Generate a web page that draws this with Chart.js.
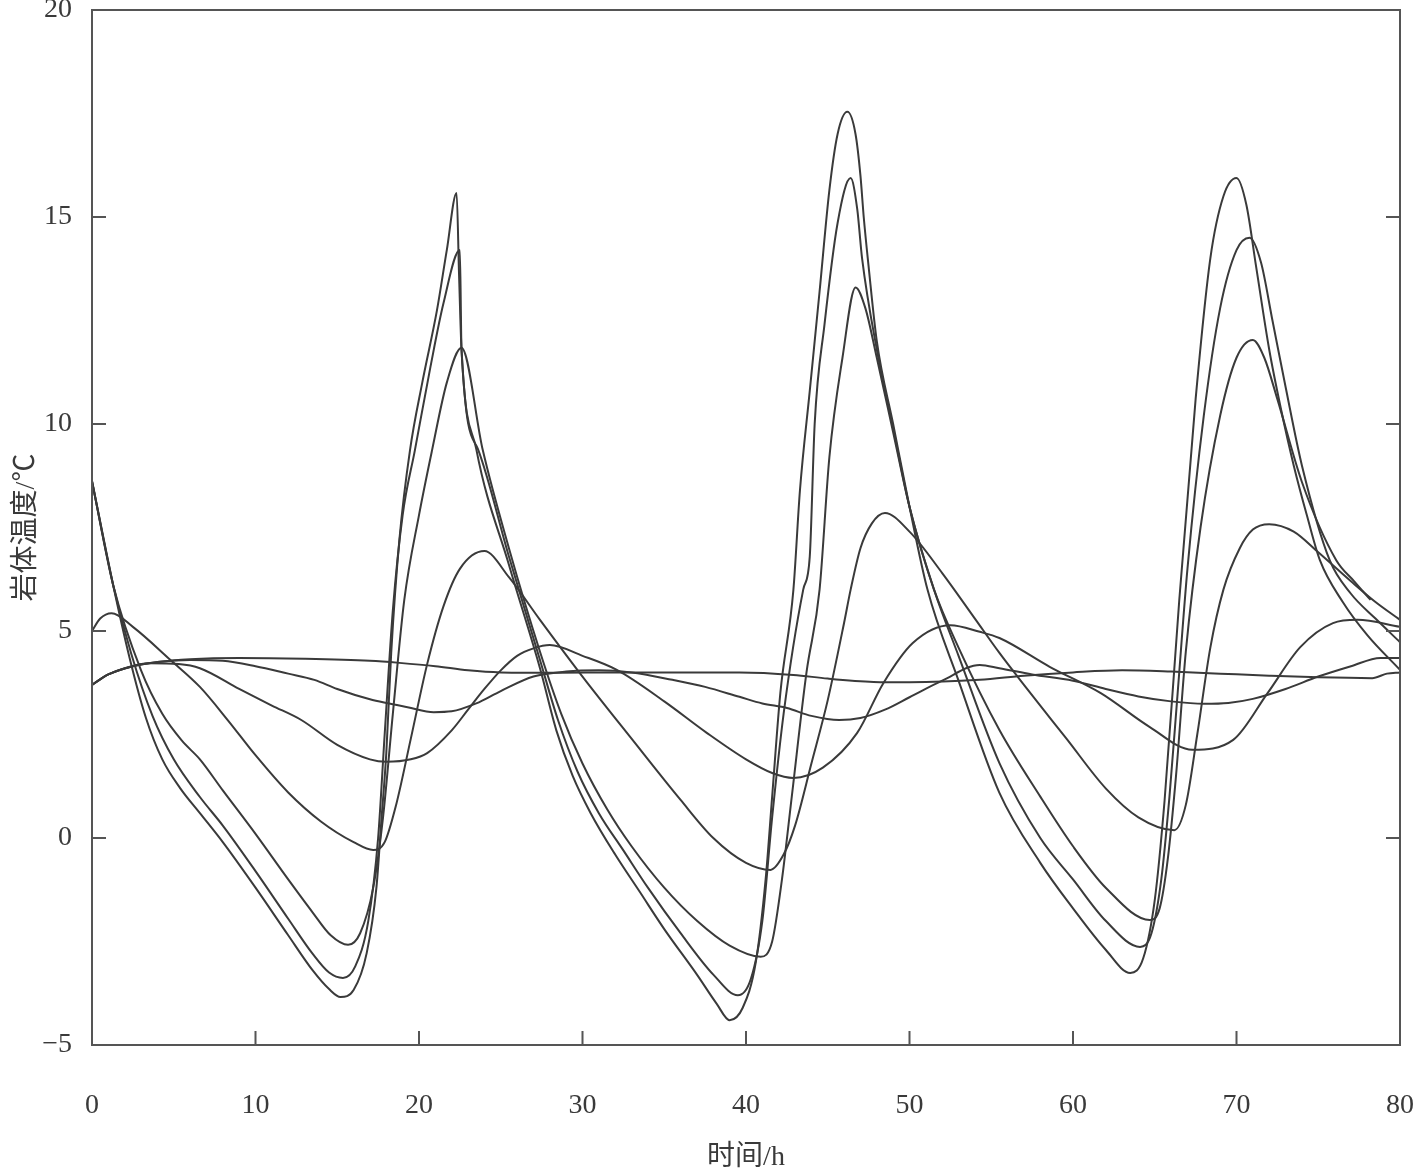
<!DOCTYPE html>
<html lang="zh">
<head>
<meta charset="UTF-8">
<title>岩体温度</title>
<script src="https://cdn.jsdelivr.net/npm/chart.js"></script>
<style>
  html, body { margin: 0; padding: 0; background: #fff; }
</style>
</head>
<body>
<canvas id="rockChart" width="1424" height="1174"></canvas>
<script>
// time in h, temperature in degC, one [h, T] pair per point
const xTicks = [0, 10, 20, 30, 40, 50, 60, 70, 80];
const yTicks = [-5, 0, 5, 10, 15, 20];

const seriesA = [[0,8.62],[1.3,6.1],[2.3,4.35],[3.3,2.9],[4.3,1.9],[5.4,1.2],[6.6,0.6],[8,-0.1],[10,-1.2],[12,-2.35],[13.5,-3.2],[14.5,-3.65],[15.2,-3.84],[16,-3.67],[16.8,-2.78],[17.4,-1.18],[17.7,0.43],[18,2.05],[18.3,4.47],[18.8,7.2],[19.45,9.37],[20.2,11.0],[21.1,12.75],[21.7,14.2],[22.3,15.58],[22.45,13.6],[22.6,11.8],[23.5,9.4],[25.5,6.6],[27.4,4.1],[28.4,2.6],[29.4,1.5],[30.5,0.6],[32,-0.4],[33.5,-1.3],[35,-2.2],[37,-3.3],[38.2,-4.0],[39,-4.4],[39.8,-4.1],[40.6,-3.0],[41.2,-1.0],[41.6,1.0],[42.1,3.5],[42.9,6.0],[43.3,8.4],[43.9,10.8],[44.5,13.2],[45.1,15.65],[45.6,17.0],[46.2,17.54],[46.7,17.0],[47.0,16.0],[47.2,15.0],[47.5,13.8],[48,12.0],[49,10.0],[50,8.0],[51.1,6.0],[53,3.8],[55.5,1.09],[58,-0.6],[60,-1.7],[62,-2.7],[63.5,-3.26],[64.3,-2.9],[65,-1.5],[65.6,0.9],[66.5,5.75],[67.5,10.6],[68.4,14.0],[69.2,15.5],[70,15.94],[70.6,15.3],[71.2,13.8],[72,11.8],[72.7,10.4],[73.5,9.0],[74.3,7.8],[75.1,6.71],[76.5,5.7],[78,4.9],[80,4.06]];
const seriesB = [[0,8.62],[1.3,6.1],[2.4,4.45],[3.7,2.95],[5,1.9],[6.6,0.99],[8,0.3],[10,-0.8],[12,-1.95],[13.5,-2.8],[14.5,-3.25],[15.35,-3.38],[16.1,-3.1],[16.9,-2.0],[17.5,0.0],[17.9,2.5],[18.4,5.5],[19,7.8],[19.75,9.37],[20.7,11.38],[21.5,12.92],[22.5,14.2],[22.6,11.8],[23.6,9.4],[25.5,6.8],[27.4,4.3],[28.5,2.85],[29.7,1.6],[31,0.6],[32.5,-0.3],[34,-1.2],[36,-2.3],[38,-3.3],[39.5,-3.8],[40.3,-3.4],[41,-2.0],[41.6,0.5],[42.3,3.0],[43.5,6.0],[43.9,6.8],[44.2,10.0],[44.8,12.4],[45.6,14.85],[46.4,15.94],[46.8,15.2],[47.1,14.0],[48,11.8],[49,9.9],[50,8.0],[51.5,6.0],[53,4.4],[55.5,1.81],[58,0.0],[60,-1.0],[62,-2.0],[64.1,-2.63],[64.8,-2.3],[65.4,-1.0],[65.9,1.0],[66.4,3.5],[67,6.5],[68,10.2],[69,12.8],[70,14.2],[70.8,14.5],[71.5,13.9],[72.2,12.5],[73,10.9],[74,9.0],[75.7,6.71],[77,5.9],[78.5,5.3],[80,4.73]];
const seriesC = [[0,8.62],[1.3,6.1],[3,4.05],[4.3,3.0],[5.5,2.35],[6.6,1.9],[8,1.15],[10,0.1],[12,-1.0],[13.5,-1.8],[14.6,-2.35],[15.66,-2.58],[16.4,-2.3],[17.2,-1.2],[17.8,0.5],[18.4,3.0],[19.1,5.75],[20,7.8],[20.8,9.37],[21.7,11.0],[22.6,11.84],[23.9,9.37],[25.5,7.0],[27.4,4.5],[28.7,3.0],[30,1.8],[31.5,0.7],[33,-0.2],[35,-1.2],[37,-2.0],[39,-2.6],[40.9,-2.87],[41.6,-2.5],[42.2,-1.0],[42.8,1.0],[43.7,4.0],[44.5,6.0],[45.1,9.2],[45.9,11.6],[46.7,13.3],[47.3,12.8],[48,11.6],[49,9.8],[50,8.0],[51.5,6.0],[53,4.6],[55.5,2.61],[58,1.0],[60,-0.2],[62,-1.2],[64.7,-1.98],[65.3,-1.7],[65.8,-0.5],[66.3,1.5],[66.9,4.5],[67.8,7.5],[69,10.2],[70,11.6],[71,12.03],[71.7,11.6],[72.5,10.6],[74,8.6],[76.1,6.71],[77.2,6.2],[78.2,5.75]];
const seriesD = [[0,5.0],[0.5,5.3],[1.2,5.43],[2.5,5.1],[4.8,4.3],[6.6,3.65],[8.3,2.85],[10,2.0],[12,1.1],[14,0.4],[16,-0.1],[17.2,-0.29],[17.9,-0.1],[18.6,0.8],[19.5,2.4],[20.5,4.2],[21.5,5.6],[22.5,6.5],[24,6.93],[25.5,6.3],[27.4,5.27],[30,3.9],[33,2.4],[36,0.92],[38,0.0],[40,-0.6],[41.5,-0.77],[42.3,-0.4],[43,0.3],[44,1.8],[45,3.33],[46,5.2],[46.4,6.0],[47,7.0],[47.7,7.6],[48.5,7.85],[50,7.4],[52,6.4],[54,5.3],[55.5,4.47],[57,3.7],[59.6,2.4],[62,1.2],[64,0.5],[66.2,0.19],[66.9,0.8],[67.6,2.5],[68.4,4.6],[69.2,6.0],[70.2,7.0],[71,7.45],[72,7.58],[73.5,7.4],[75,6.9],[77,6.2],[78.5,5.7],[80,5.27]];
const seriesE = [[0,3.7],[1,3.95],[2,4.1],[3.5,4.22],[5.3,4.2],[6.6,4.1],[9,3.6],[11,3.2],[12.8,2.85],[15,2.25],[17,1.9],[18,1.84],[19.5,1.9],[20.5,2.05],[22,2.6],[23,3.1],[24,3.6],[25,4.05],[26,4.4],[27,4.58],[28,4.66],[30,4.4],[32.1,4.06],[35,3.3],[37.6,2.54],[40,1.9],[41.6,1.57],[42.9,1.45],[44.7,1.7],[46.8,2.54],[48.4,3.74],[50.2,4.71],[52.5,5.14],[54.3,4.98],[55.5,4.83],[58.6,4.13],[61.7,3.5],[64.7,2.68],[67.3,2.13],[69.8,2.37],[71.9,3.5],[73.9,4.61],[75.9,5.19],[77.4,5.27],[80,5.1]];
const seriesF = [[0,3.7],[1,3.95],[2.5,4.15],[4,4.25],[6,4.3],[8,4.28],[10,4.15],[12,3.97],[13.6,3.82],[15,3.6],[17,3.35],[18,3.26],[19.3,3.16],[20.9,3.04],[22,3.06],[23.5,3.25],[25,3.55],[27,3.9],[29,4.02],[31,4.05],[33,4.0],[35.5,3.82],[37.5,3.65],[39.6,3.41],[41,3.25],[42.5,3.14],[44,2.95],[45.7,2.85],[47,2.9],[48.5,3.1],[50,3.4],[52,3.8],[54.3,4.18],[55.5,4.1],[57.5,3.95],[60,3.8],[62,3.6],[64,3.42],[66,3.3],[68,3.24],[69.5,3.26],[71,3.36],[73,3.6],[75,3.9],[77,4.15],[78.8,4.35],[80,4.35]];
const seriesG = [[0,3.7],[1,3.95],[2.5,4.15],[4,4.25],[6,4.32],[9,4.35],[13,4.33],[17,4.28],[18.8,4.23],[21,4.15],[23,4.05],[25,4.0],[28.6,3.99],[32,4.0],[36,4.0],[39.6,4.0],[42.9,3.94],[45,3.85],[47.8,3.77],[50,3.76],[54.3,3.82],[57,3.92],[60,4.0],[63,4.05],[66,4.02],[69,3.97],[72,3.92],[75,3.88],[78.3,3.86],[79.2,3.97],[80,4.0]];

const allSeries = [seriesA, seriesB, seriesC, seriesD, seriesE, seriesF, seriesG];
const lineColor = '#3a3a3a';
const axisColor = '#555';
const fontFamily = "'Liberation Serif', 'Noto Sans CJK SC', serif";

// frame + inward tick marks, like the original plot
const frameTicks = {
    id: 'frameTicks',
    afterDraw(chart) {
        const { ctx, chartArea: a, scales } = chart;
        ctx.save();
        ctx.strokeStyle = axisColor;
        ctx.lineWidth = 2;
        ctx.strokeRect(a.left, a.top, a.right - a.left, a.bottom - a.top);
        const len = 14;
        ctx.beginPath();
        xTicks.forEach(v => {
            if (v === xTicks[0] || v === xTicks[xTicks.length - 1]) return;
            const px = scales.x.getPixelForValue(v);
            ctx.moveTo(px, a.bottom);
            ctx.lineTo(px, a.bottom - len);
        });
        yTicks.forEach(v => {
            if (v === yTicks[0] || v === yTicks[yTicks.length - 1]) return;
            const py = scales.y.getPixelForValue(v);
            ctx.moveTo(a.left, py);
            ctx.lineTo(a.left + len, py);
            ctx.moveTo(a.right, py);
            ctx.lineTo(a.right - len, py);
        });
        ctx.stroke();
        ctx.restore();
    }
};

new Chart(document.getElementById('rockChart'), {
    type: 'line',
    data: {
        datasets: allSeries.map((s, i) => ({
            label: 'S' + (i + 1),
            data: s.map(p => ({ x: p[0], y: p[1] })),
            borderColor: lineColor,
            borderWidth: 2,
            pointRadius: 0,
            fill: false,
            cubicInterpolationMode: 'monotone'
        }))
    },
    options: {
        responsive: false,
        devicePixelRatio: 1,
        animation: false,
        layout: { padding: { top: 10, right: 24, left: 0, bottom: 0 } },
        plugins: { legend: { display: false }, tooltip: { enabled: false } },
        scales: {
            x: {
                type: 'linear',
                min: 0,
                max: 80,
                afterBuildTicks: s => { s.ticks = xTicks.map(v => ({ value: v })); },
                afterFit: s => { s.height = 129; s.paddingLeft = 0; s.paddingRight = 0; },
                grid: { display: false },
                border: { display: false },
                ticks: {
                    color: '#3a3a3a',
                    padding: 36,
                    maxRotation: 0,
                    font: { family: fontFamily, size: 28 }
                },
                title: {
                    display: true,
                    text: '时间/h',
                    color: '#3a3a3a',
                    padding: { top: 0, bottom: 0 },
                    font: { family: fontFamily, size: 28 }
                }
            },
            y: {
                type: 'linear',
                min: -5,
                max: 20,
                afterBuildTicks: s => { s.ticks = yTicks.map(v => ({ value: v })); },
                afterFit: s => { s.width = 92; s.paddingTop = 0; s.paddingBottom = 0; },
                grid: { display: false },
                border: { display: false },
                ticks: {
                    color: '#3a3a3a',
                    padding: 12,
                    font: { family: fontFamily, size: 28 },
                    callback: v => String(v).replace('-', '\u2212')
                },
                title: {
                    display: true,
                    text: '岩体温度/℃',
                    color: '#3a3a3a',
                    padding: { top: 10, bottom: 0 },
                    font: { family: fontFamily, size: 28 }
                }
            }
        }
    },
    plugins: [frameTicks]
});
</script>
</body>
</html>
